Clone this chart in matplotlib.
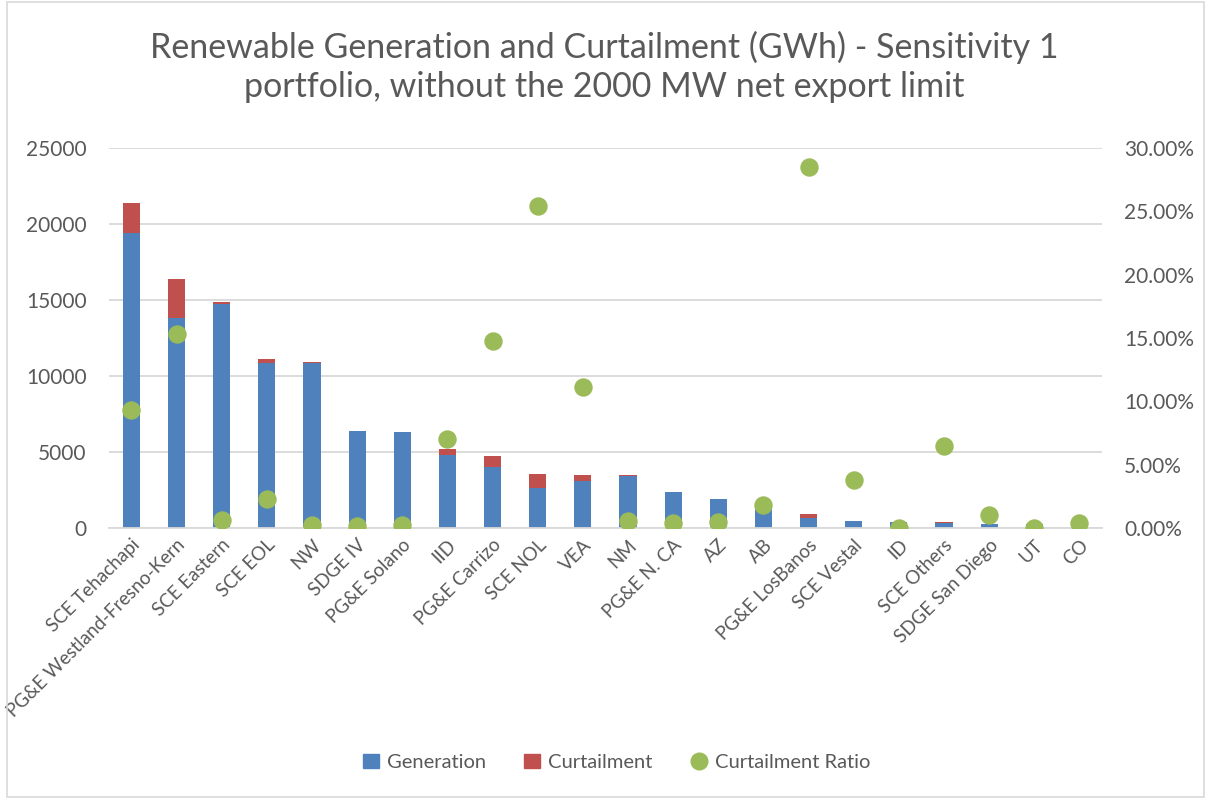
import matplotlib.pyplot as plt
import matplotlib.patches as mpatches
from matplotlib.lines import Line2D
from matplotlib.ticker import FuncFormatter
import numpy as np

plt.rcParams['font.family'] = ['Lato', 'DejaVu Sans']

regions = ['SCE Tehachapi', 'PG&E Westland-Fresno-Kern', 'SCE Eastern', 'SCE EOL', 'NW',
           'SDGE IV', 'PG&E Solano', 'IID', 'PG&E Carrizo', 'SCE NOL', 'VEA', 'NM',
           'PG&E N. CA', 'AZ', 'AB', 'PG&E LosBanos', 'SCE Vestal', 'ID', 'SCE Others',
           'SDGE San Diego', 'UT', 'CO']
generation = [19390, 13840, 14760, 10880, 10880, 6350, 6310, 4820, 4040, 2610, 3110, 3440,
              2360, 1880, 1420, 640, 445, 410, 345, 277, 260, 199]
curtailment = [2010, 2520, 110, 240, 60, 10, 10, 360, 700, 940, 400, 20,
               10, 10, 30, 280, 15, 0, 25, 3, 0, 1]
ratio = [0.0932, 0.1529, 0.0063, 0.0226, 0.0024, 0.0016, 0.0020, 0.0700, 0.1474, 0.2540,
         0.1116, 0.0055, 0.0042, 0.0045, 0.0182, 0.2850, 0.0379, 0.0003, 0.0650, 0.0103,
         0.0000, 0.0042]

blue = '#4F81BD'
red = '#C0504D'
green = '#9BBB59'
text_gray = '#595959'
grid_gray = '#D9D9D9'

fig = plt.figure(figsize=(12.09, 8), dpi=100)
ax = fig.add_axes([0.090, 0.34, 0.8215, 0.475])

x = np.arange(len(regions))
ax.bar(x, generation, width=0.38, color=blue, zorder=2)
ax.bar(x, curtailment, width=0.38, bottom=generation, color=red, zorder=2)

ax.set_ylim(0, 25000)
ax.set_xlim(-0.5, len(regions) - 0.5)
ax.set_yticks(range(0, 25001, 5000))
ax.yaxis.grid(True, color=grid_gray, linewidth=1.3, zorder=0)
ax.set_axisbelow(True)
for s in ['top', 'left', 'right']:
    ax.spines[s].set_visible(False)
ax.spines['bottom'].set_color(grid_gray)
ax.spines['bottom'].set_linewidth(1.3)
ax.tick_params(length=0, labelsize=15, labelcolor=text_gray, pad=16)
ax.set_xticks(x)
ax.set_xticklabels(regions, rotation=45, ha='right', rotation_mode='anchor', fontsize=13.5)
ax.tick_params(axis='x', pad=6)

ax2 = ax.twinx()
ax2.scatter(x, ratio, s=150, color=green, zorder=3)
ax2.set_ylim(0, 0.30)
ax2.set_yticks(np.arange(0, 0.301, 0.05))
ax2.yaxis.set_major_formatter(FuncFormatter(lambda v, p: f'{v * 100:.2f}%'))
for s in ['top', 'left', 'right', 'bottom']:
    ax2.spines[s].set_visible(False)
ax2.tick_params(length=0, labelsize=15, labelcolor=text_gray, pad=16)

fig.suptitle('Renewable Generation and Curtailment (GWh) - Sensitivity 1\n'
             'portfolio, without the 2000 MW net export limit',
             y=0.962, fontsize=24.5, color=text_gray, linespacing=1.3)

handles = [mpatches.Patch(color=blue, label='Generation'),
           mpatches.Patch(color=red, label='Curtailment'),
           Line2D([], [], marker='o', linestyle='', color=green, markersize=12,
                  label='Curtailment Ratio')]
fig.legend(handles=handles, loc='center', bbox_to_anchor=(0.51, 0.047), ncol=3,
           frameon=False, fontsize=14.5, labelcolor=text_gray, handlelength=0.8,
           handletextpad=0.4, columnspacing=1.9)

fig.patches.append(mpatches.Rectangle((0.006, 0.004), 0.99, 0.994, transform=fig.transFigure,
                                      fill=False, edgecolor=grid_gray, linewidth=1.2))

fig.savefig('out.png', dpi=100)
